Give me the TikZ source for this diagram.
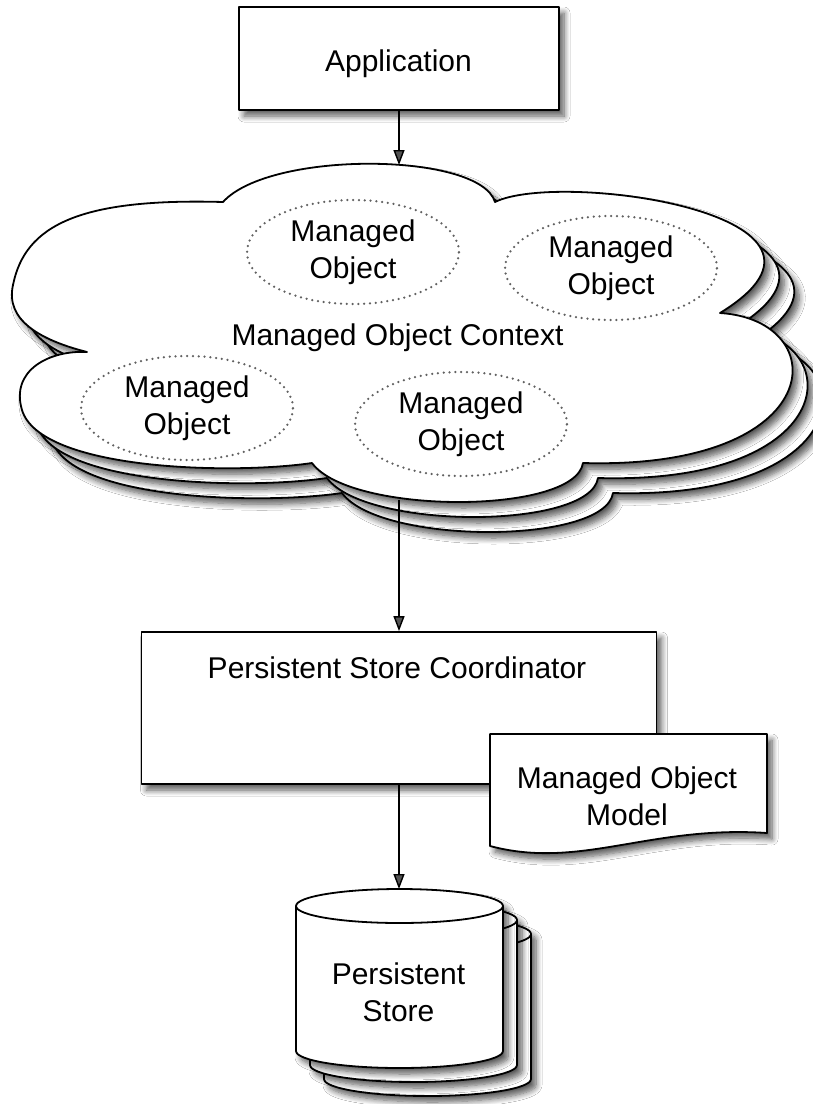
\documentclass[tikz,border=0pt]{standalone}
\usepackage{fontspec}
\setmainfont{Liberation Sans}
\usetikzlibrary{arrows.meta,shapes.geometric,shadows.blur}
\tikzset{
  outline/.style={draw=black, line width=1.8pt, fill=white, line join=round},
  shad/.style={blur shadow={shadow xshift=5pt, shadow yshift=-6pt, shadow blur radius=6pt, shadow blur steps=8, shadow opacity=65}},
  lbl/.style={font=\fontsize{30}{37}\selectfont, align=center, inner sep=0pt},
  lblone/.style={lbl, text height=22pt, text depth=6.5pt},
  box/.style={outline, shad, rectangle, inner sep=0pt},
  mo/.style={lbl, ellipse, draw=black!62, line width=2.5pt, dash pattern=on 0pt off 5.8pt, line cap=round, minimum width=212pt, minimum height=104pt},
  arr/.style={line width=1.4pt, -{Triangle[length=15pt,width=11pt]}},
}
\newcommand\cloudshape[1]{\path[#1] (223,202) .. controls (270,150) and (480,152) .. (495,202)
  .. controls (560,170) and (880,215) .. (720,313)
  .. controls (835,320) and (830,470) .. (583,463)
  .. controls (575,515) and (350,515) .. (312,463)
  .. controls (230,475) and (40,470) .. (22,410)
  .. controls (10,370) and (50,350) .. (87,352)
  .. controls (40,340) and (5,320) .. (13,285)
  .. controls (25,225) and (80,198) .. (223,202) -- cycle;}
\newcommand\cylshape[1]{\path[#1, shad] (296,906) -- (296,1051)
  arc[start angle=180, end angle=0, x radius=103.5, y radius=17] -- (503,906)
  arc[start angle=0, end angle=-180, x radius=103.5, y radius=17] -- cycle;
  \path[#1, fill=none] (296,906) arc[start angle=180, end angle=0, x radius=103.5, y radius=17];}
\begin{document}
\begin{tikzpicture}[x=1pt,y=-1pt]
\useasboundingbox (0,0) rectangle (813,1104);
\fill[white] (0,0) rectangle (813,1104);

% Application
\node[box, minimum width=320pt, minimum height=103pt] (app) at (399,58.5) {};
\node[lblone] (apptxt) at (398.5,63.5) {Application};

% Managed Object Context cloud (stacked)
\cloudshape{outline, shad, shift={(30,30)}}
\cloudshape{outline, shad, shift={(15,15)}}
\cloudshape{outline, shad}
\coordinate (cloudtop) at (399,165);
\coordinate (cloudbot) at (399,500);

\node[mo] (mo1) at (353,252) {Managed\\Object};
\node[mo] (mo2) at (611,268) {Managed\\Object};
\node[mo] (mo3) at (187,408) {Managed\\Object};
\node[mo] (mo4) at (461,424) {Managed\\Object};
\node[lblone] (moc) at (397.5,338) {Managed Object Context};

% Persistent Store Coordinator
\node[box, minimum width=515pt, minimum height=152pt] (psc) at (399,708) {};
\node[lblone] (psctxt) at (397,671) {Persistent Store Coordinator};

% Managed Object Model document
\path[outline, shad] (490,734) -- (767,734) -- (767,833) .. controls (650,825) and (580,870) .. (490,846) -- cycle;
\node[lbl] (mom) at (627,796) {Managed Object\\Model};

% Persistent Store cylinders
\begin{scope}[shift={(28,28)}]\cylshape{outline}\end{scope}
\begin{scope}[shift={(14,14)}]\cylshape{outline}\end{scope}
\cylshape{outline}
\coordinate (cyltop) at (399,889);
\node[lbl] (ps) at (398.5,992) {Persistent\\Store};

% connectors
\draw[arr] (app.south) -- (cloudtop);
\draw[arr] (cloudbot) -- (psc.north);
\draw[arr] (psc.south) -- (cyltop);
\end{tikzpicture}
\end{document}
